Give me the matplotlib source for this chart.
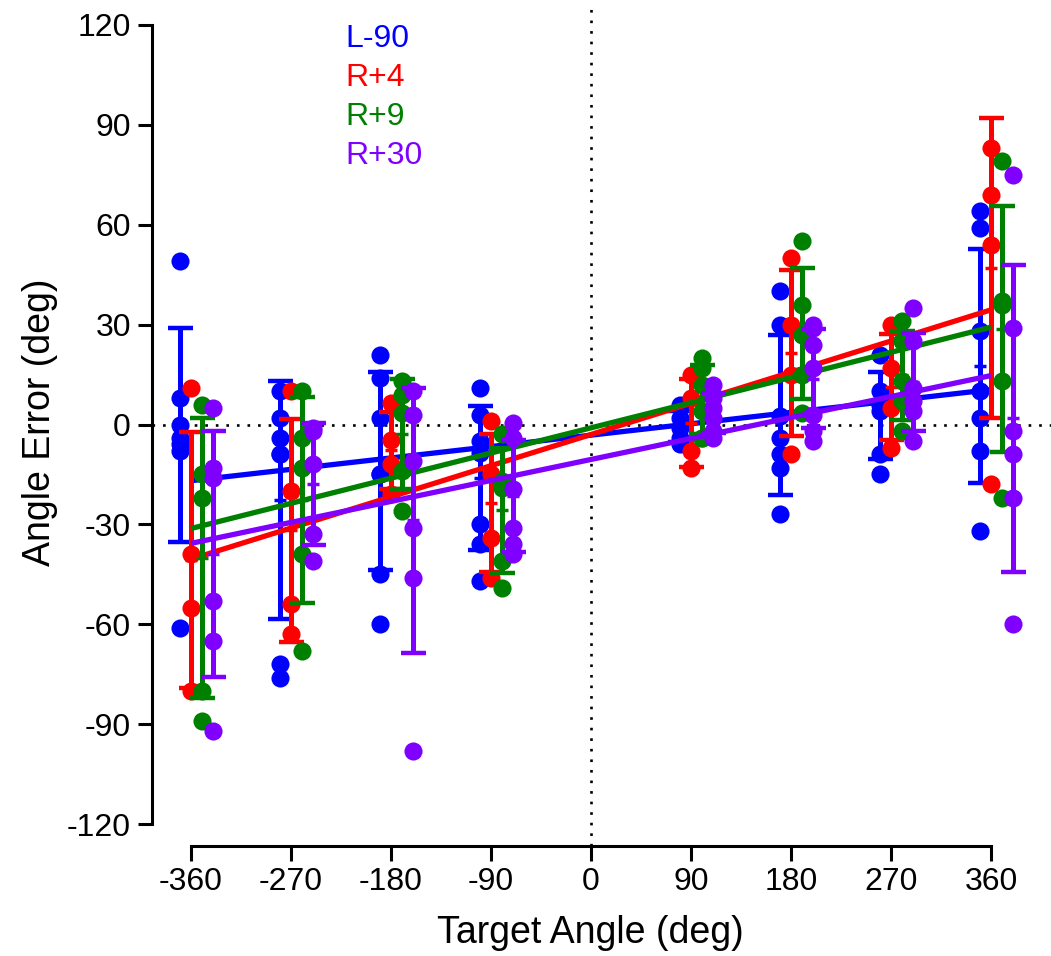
import matplotlib
matplotlib.use("Agg")
import matplotlib.pyplot as plt
import numpy as np

plt.rcParams["font.family"] = ["Liberation Sans", "DejaVu Sans"]
plt.rcParams["axes.unicode_minus"] = False

TARGETS = [-360, -270, -180, -90, 90, 180, 270, 360]
CONDITIONS = ["L-90", "R+4", "R+9", "R+30"]
COLORS = ["#0000ff", "#ff0000", "#008000", "#8000ff"]
OFFSETS = [-10, 0, 10, 20]   # horizontal jitter of each condition (deg)

# angle error per trial, one list per target angle
L90 = [
    [49, 8, 0, -4, -6, -8, -61],
    [10, 2, -4, -9, -9, -72, -76],
    [21, 14, 2, -15, -15, -45, -60],
    [11, 3, -5, -8.5, -30, -36, -47],
    [6, 2, -1, -4, -6],
    [40, 30, 2.5, -4, -9, -13, -27],
    [21, 10, 6, 4, -9, -15],
    [64, 59, 28, 10, 2, -8, -32],
]
R4 = [
    [11, -39, -55, -80],
    [10, -20, -54, -63],
    [6.5, -4.7, -12, -21],
    [1, -15, -34, -46],
    [15, 8, -8, -13],
    [50, 30, 15, -9],
    [30, 17, 5, -7],
    [83, 69, 54, -18],
]
R9 = [
    [6, -15, -22, -80, -89],
    [10, -4, -13, -39, -68],
    [13, 9, 3.5, -14, -26],
    [-3, -17, -19, -41, -49],
    [20, 17, 12, 4, -4, -4],
    [55, 36, 27, 15, 3.5],
    [31, 25, 13, 7, -2],
    [79, 37, 36, 13, -22],
]
R30 = [
    [5, -13, -16, -53, -65, -92],
    [-1, -2, -12, -33, -41],
    [10, 3, -11, -31, -46, -98],
    [0.5, -4, -19.5, -31, -36, -39],
    [12, 8, 5, 2, -2, -4],
    [30, 29, 24, 17, 3, -2, -5],
    [35, 25, 11, 7, 4, -5],
    [75, 29, -2, -9, -22, -60],
]
DATA = [L90, R4, R9, R30]

# linear fits
SLOPES = [0.038, 0.104, 0.084, 0.070]
INTERCEPTS = [-3.2, -3.0, -1.0, -10.5]
FIT_RANGE = [-360, 360]


def main():
    W, H = 1051, 956
    fig = plt.figure(figsize=(W / 100, H / 100), dpi=100)
    left, bottom, top = 151.7, 846, 8
    ax = fig.add_axes([left / W, 1 - bottom / H, (W - left) / W, (bottom - top) / H])
    ax.set_xlim(-395.4, 414)
    ax.set_ylim(-126.6, 125.1)

    dots = (0, (1, 3))
    ax.axhline(0, color="k", ls=dots, lw=1.9, zorder=0)
    ax.axvline(0, color="k", ls=dots, lw=1.9, zorder=0)

    xf = np.array(FIT_RANGE, dtype=float)
    for k, (series, col, off) in enumerate(zip(DATA, COLORS, OFFSETS)):
        z = 2 + k * 3
        xs = np.array(TARGETS) + off
        means = np.array([np.mean(v) for v in series])
        sds = np.array([np.std(v, ddof=1) for v in series])
        ax.errorbar(xs, means, yerr=sds, fmt="none", ecolor=col, elinewidth=3.6,
                    capsize=9, capthick=3.2, zorder=z, clip_on=False)
        ax.plot(xs, means, ls="none", marker="_", ms=9, mew=2.5, color=col,
                zorder=z, clip_on=False)
        px = np.concatenate([[x] * len(v) for x, v in zip(xs, series)])
        py = np.concatenate(series)
        ax.scatter(px, py, s=170, color=col, linewidths=0, zorder=z + 1,
                   clip_on=False)
        ax.plot(xf, SLOPES[k] * xf + INTERCEPTS[k], color=col, lw=3.8,
                solid_capstyle="butt", zorder=z + 2)

    for side in ("top", "right"):
        ax.spines[side].set_visible(False)
    ax.spines["left"].set_bounds(-120, 120)
    ax.spines["bottom"].set_bounds(-360, 360)
    for side in ("left", "bottom"):
        ax.spines[side].set_linewidth(2.2)
    ax.set_xticks(range(-360, 361, 90))
    ax.set_yticks(range(-120, 121, 30))
    ax.tick_params(axis="both", direction="out", width=2.2, labelsize=23)
    ax.tick_params(axis="y", length=10, pad=5)
    ax.tick_params(axis="x", length=11, pad=4)

    fig.text(590 / W, 1 - 933 / H, "Target Angle (deg)", fontsize=27,
             ha="center", va="center")
    fig.text(40 / W, 1 - 422 / H, "Angle Error (deg)", fontsize=27,
             ha="center", va="center", rotation=90)

    for i, (name, col) in enumerate(zip(CONDITIONS, COLORS)):
        fig.text(345 / W, 1 - (39 + 39 * i) / H, name, color=col, fontsize=23,
                 ha="left", va="center")

    fig.savefig("out.png", dpi=100)


if __name__ == "__main__":
    main()
